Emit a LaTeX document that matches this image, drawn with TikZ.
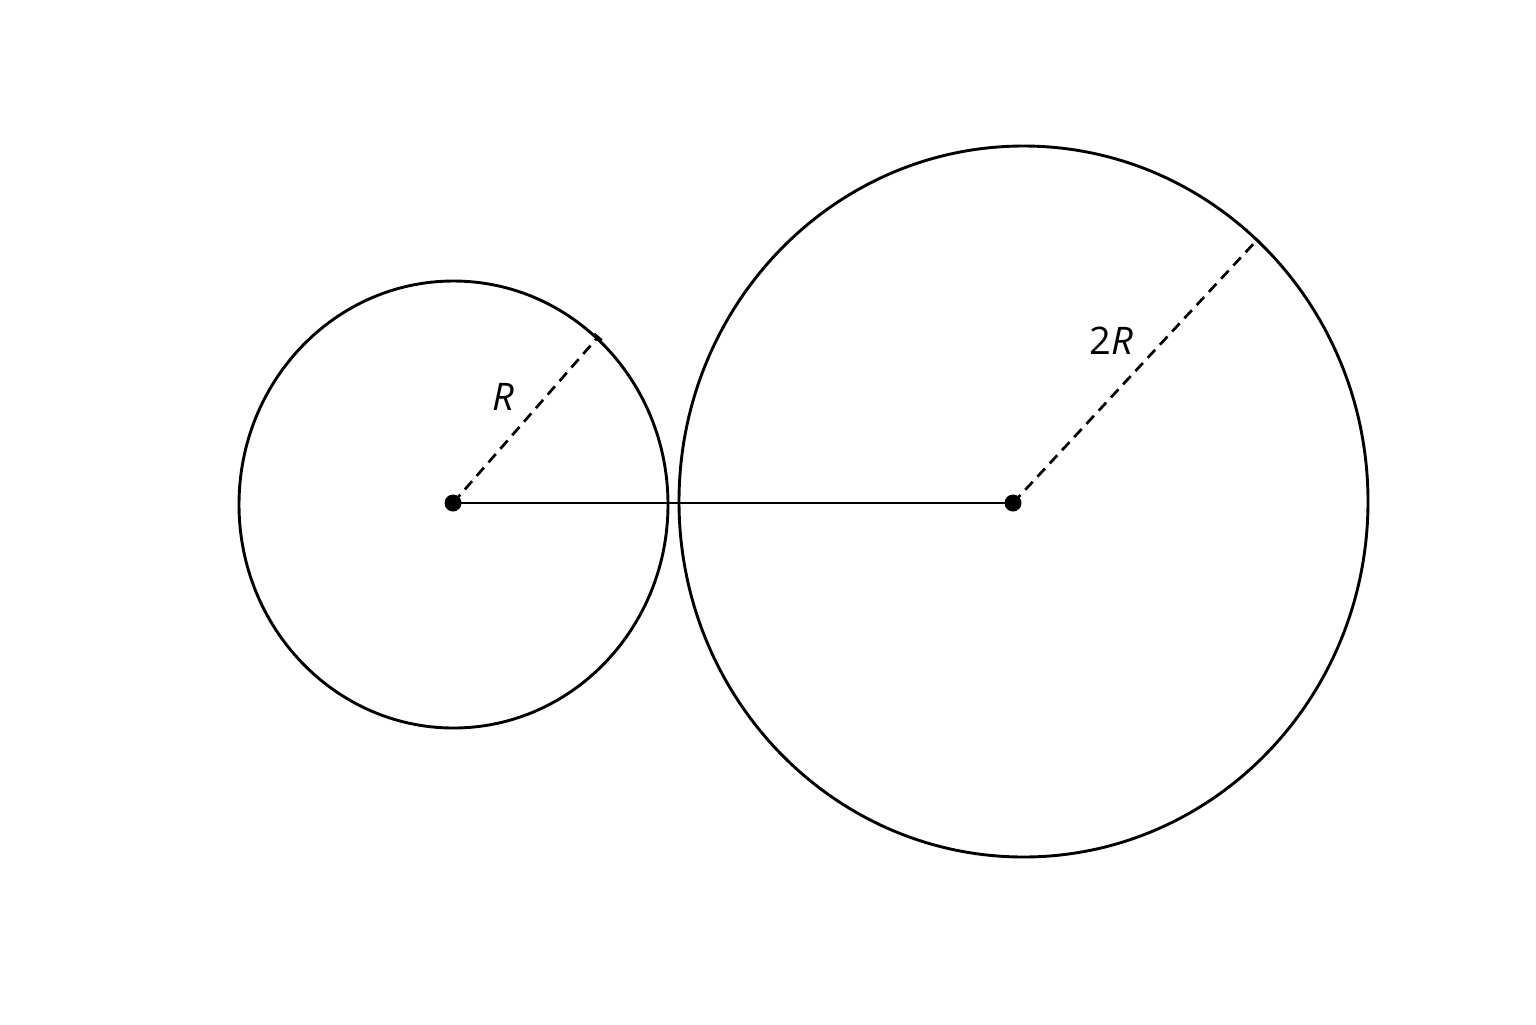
\documentclass[tikz,border=0pt]{standalone}
\usepackage{fontspec}
\setmainfont{Open Sans}
\begin{document}
\begin{tikzpicture}[x=0.5pt,y=-0.5pt,
  rim/.style={line width=1.45pt},
  radius line/.style={line width=1.35pt, dash pattern=on 5.5pt off 3.5pt},
  centre dot/.style={circle, fill=black, inner sep=0pt, minimum size=8.5pt},
  lbl/.style={font=\fontsize{19}{22}\selectfont}]
\useasboundingbox (0,0) rectangle (1536,1024);
% circles
\draw[rim] (453.5,504.5) ellipse [x radius=214.5, y radius=223.5];
\draw[rim] (1023.5,501.5) ellipse [x radius=344.5, y radius=355.5];
% centres and radius ends
\coordinate (c1) at (453,503);
\coordinate (c2) at (1013,503);
\coordinate (e1) at (598,337);
\coordinate (e2) at (1257,240);
\draw[line width=1.35pt] (c1) -- (c2);
\draw[radius line] (c1) -- (e1);
\draw[radius line] (c2) -- (e2);
\draw[line width=1.2pt] (e1) ++(3.8,3.3) -- ++(-7.6,-6.6);
\draw[line width=1.2pt] (e2) ++(3.7,3.4) -- ++(-7.4,-6.8);
\node[centre dot] (d1) at (c1) {};
\node[centre dot] (d2) at (c2) {};
\node[lbl] (r1) at (503,397) {\itshape R};
\node[lbl] (r2) at (1111,341) {2\itshape R};
\end{tikzpicture}
\end{document}
